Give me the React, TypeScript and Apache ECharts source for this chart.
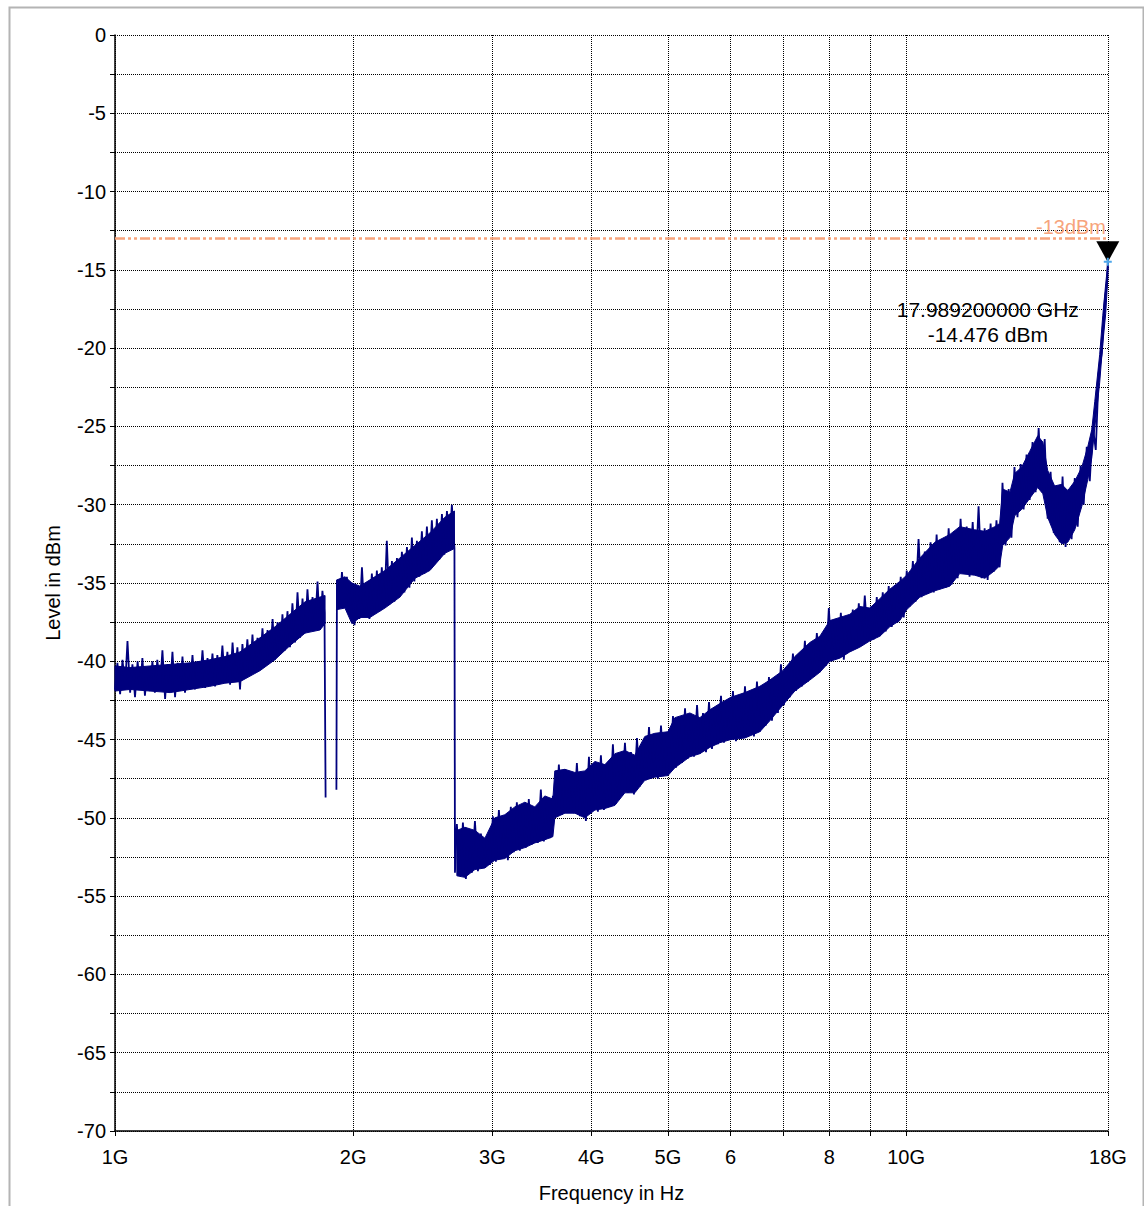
import React, { useEffect, useRef } from 'react';
import * as echarts from 'echarts';

// ---- axis definitions ----
const xTickFreqsGHz = [1, 2, 3, 4, 5, 6, 7, 8, 9, 10, 18];
const xLabelFreqsGHz = [1, 2, 3, 4, 5, 6, 8, 10, 18];
const xLabelTexts = ['1G', '2G', '3G', '4G', '5G', '6', '8', '10G', '18G'];
const yMin = -70;
const yMax = 0;
const yStep = 2.5;
const xAxisName = 'Frequency in Hz';
const yAxisName = 'Level in dBm';

// ---- limit line & marker ----
const limitLevel = -13;
const limitLabel = '-13dBm';
const markerFreqGHz = 17.9892;
const markerLevel = -14.476;

// ---- dense band of the trace: [GHz, upper dBm, lower dBm] ----
const bandA = [
  [1.000, -40.3, -41.9], [1.045, -40.4, -41.8], [1.107, -40.3, -41.9], [1.174, -40.2, -42.0],
  [1.244, -40.1, -41.8], [1.318, -39.9, -41.6], [1.377, -39.7, -41.4], [1.439, -39.4, -41.3],
  [1.525, -38.5, -40.6], [1.593, -37.8, -39.9], [1.664, -37.0, -39.0], [1.739, -36.2, -38.2],
  [1.816, -35.9, -38.0], [1.843, -35.8, -37.6],
];
const bandB = [
  [1.908, -34.8, -36.7], [1.953, -34.6, -36.6], [1.993, -35.0, -37.6], [2.040, -35.2, -37.2],
  [2.100, -34.8, -37.2], [2.194, -34.2, -36.6], [2.292, -33.4, -35.9], [2.394, -32.6, -34.7],
  [2.501, -31.8, -34.2], [2.612, -30.8, -33.1], [2.686, -30.4, -32.8],
];
const bandC = [
  [2.705, -50.8, -53.7], [2.769, -50.6, -53.8], [2.851, -50.8, -53.3], [2.935, -51.3, -53.2],
  [3.021, -50.0, -52.7], [3.110, -49.8, -52.6], [3.202, -49.3, -52.1], [3.297, -49.0, -51.9],
  [3.394, -49.3, -51.6], [3.494, -48.6, -51.4], [3.577, -48.8, -51.2], [3.597, -47.0, -50.0],
  [3.705, -46.9, -49.7], [3.814, -47.1, -49.7], [3.926, -47.0, -50.0], [4.043, -46.4, -49.5],
  [4.162, -46.6, -49.4], [4.285, -45.9, -49.2], [4.411, -45.7, -48.4], [4.541, -46.0, -48.4],
  [4.675, -44.8, -47.6], [4.813, -44.6, -47.4], [5.000, -44.5, -47.3], [5.102, -43.6, -46.8],
  [5.330, -43.3, -46.1], [5.487, -43.6, -45.9], [5.648, -43.1, -45.5], [5.816, -42.7, -45.2],
  [6.004, -42.3, -45.0], [6.254, -42.0, -44.9], [6.533, -41.6, -44.5], [6.726, -41.2, -43.8],
  [6.985, -40.6, -42.8], [7.234, -39.7, -41.9], [7.557, -38.8, -41.2], [7.781, -38.4, -40.7],
  [8.010, -37.4, -40.0], [8.247, -37.2, -39.8], [8.490, -37.0, -39.4], [8.740, -36.5, -39.1],
  [8.999, -36.6, -38.7], [9.264, -36.0, -38.4], [9.537, -35.4, -37.8], [9.818, -34.9, -37.4],
  [10.02, -34.5, -36.7], [10.41, -33.4, -35.9], [10.87, -32.4, -35.5], [11.36, -31.9, -35.2],
  [11.69, -31.4, -34.4], [12.21, -31.6, -34.5], [12.58, -31.7, -34.7], [12.95, -31.4, -34.2],
  [13.13, -31.2, -33.9], [13.25, -29.0, -32.6], [13.53, -29.2, -32.1], [13.72, -28.0, -30.7],
  [14.00, -27.6, -30.3], [14.33, -26.6, -29.6], [14.67, -25.6, -28.9], [14.89, -26.0, -29.3],
  [15.10, -27.8, -30.8], [15.41, -28.8, -31.9], [15.73, -28.7, -32.5], [16.01, -29.1, -32.4],
  [16.34, -28.5, -31.6], [16.68, -27.6, -30.1], [16.97, -26.3, -28.4], [17.17, -25.2, -27.0],
  [17.32, -23.4, -25.1], [17.57, -20.4, -22.2], [17.73, -17.9, -19.7], [17.88, -15.9, -17.8],
  [17.99, -14.6, -15.5],
];

// ---- trace samples (noisy), [GHz, dBm] ----
const traceA = [
  [1.000, -41.8], [1.007, -40.1], [1.015, -42.1], [1.022, -39.9], [1.030, -41.6], [1.037, -38.7],
  [1.045, -42.0], [1.052, -40.2], [1.060, -42.3], [1.068, -40.0], [1.076, -41.8], [1.083, -39.8],
  [1.091, -42.2], [1.099, -40.4], [1.107, -41.9], [1.115, -40.0], [1.123, -42.0], [1.131, -39.9],
  [1.140, -41.7], [1.148, -39.3], [1.157, -42.4], [1.165, -40.2], [1.174, -41.8], [1.182, -39.4],
  [1.191, -42.3], [1.200, -40.1], [1.208, -41.9], [1.217, -39.7], [1.226, -42.0], [1.235, -40.3],
  [1.244, -41.6], [1.253, -39.6], [1.262, -41.8], [1.271, -40.1], [1.281, -41.5], [1.290, -39.3],
  [1.300, -41.7], [1.309, -39.8], [1.318, -41.4], [1.328, -39.5], [1.338, -41.6], [1.347, -39.6],
  [1.357, -41.2], [1.367, -39.0], [1.377, -41.3], [1.387, -39.4], [1.398, -41.5], [1.408, -38.8],
  [1.418, -41.1], [1.428, -39.1], [1.439, -41.8], [1.449, -38.9], [1.460, -40.8], [1.470, -38.6],
  [1.481, -40.9], [1.492, -38.3], [1.503, -40.7], [1.514, -38.5], [1.525, -40.4], [1.536, -37.9],
  [1.548, -40.2], [1.559, -38.0], [1.570, -39.9], [1.582, -37.3], [1.593, -39.9], [1.605, -37.5],
  [1.617, -39.6], [1.628, -37.0], [1.640, -39.3], [1.652, -36.8], [1.664, -39.1], [1.676, -36.3],
  [1.689, -38.8], [1.701, -35.6], [1.714, -38.5], [1.726, -36.0], [1.739, -38.2], [1.751, -35.4],
  [1.764, -37.9], [1.777, -35.9], [1.790, -37.8], [1.803, -34.9], [1.816, -38.0], [1.829, -35.5],
  [1.840, -36.9], [1.846, -48.7],
];
const traceB = [
  [1.905, -48.2], [1.908, -34.8], [1.922, -36.6], [1.936, -34.3], [1.950, -36.4], [1.964, -34.6],
  [1.979, -36.9], [1.993, -35.0], [2.008, -37.7], [2.022, -35.3], [2.037, -37.3], [2.052, -34.0],
  [2.067, -37.1], [2.082, -35.0], [2.097, -37.3], [2.112, -34.4], [2.128, -36.9], [2.143, -34.2],
  [2.159, -36.8], [2.174, -34.0], [2.190, -36.6], [2.206, -32.3], [2.222, -36.4], [2.239, -33.6],
  [2.255, -36.2], [2.272, -33.4], [2.288, -35.9], [2.305, -33.0], [2.322, -35.6], [2.339, -32.7],
  [2.356, -35.3], [2.373, -32.1], [2.390, -34.9], [2.408, -32.3], [2.425, -34.6], [2.443, -31.7],
  [2.461, -34.4], [2.479, -31.4], [2.497, -34.1], [2.515, -31.0], [2.534, -33.8], [2.552, -30.9],
  [2.571, -33.5], [2.590, -30.6], [2.608, -33.2], [2.628, -30.4], [2.647, -32.6], [2.666, -30.0],
  [2.686, -32.8], [2.690, -53.5],
];
const traceC = [
  [2.705, -50.4], [2.729, -53.7], [2.753, -50.3], [2.777, -53.9], [2.801, -50.9], [2.826, -53.5],
  [2.851, -50.2], [2.876, -53.4], [2.901, -51.0], [2.926, -53.2], [2.952, -51.4], [2.978, -53.0],
  [3.004, -49.9], [3.030, -52.8], [3.057, -49.5], [3.084, -52.6], [3.110, -50.2], [3.138, -52.7],
  [3.165, -49.3], [3.193, -52.2], [3.221, -49.0], [3.249, -52.1], [3.278, -49.6], [3.306, -51.9],
  [3.335, -48.8], [3.365, -51.7], [3.394, -49.5], [3.424, -51.6], [3.454, -48.2], [3.484, -51.5],
  [3.515, -49.0], [3.546, -51.3], [3.577, -48.6], [3.608, -49.9], [3.640, -46.6], [3.672, -49.8],
  [3.705, -46.9], [3.737, -49.6], [3.770, -47.2], [3.803, -49.7], [3.836, -46.5], [3.870, -49.9],
  [3.904, -47.3], [3.938, -50.2], [3.973, -46.1], [4.008, -49.4], [4.043, -46.8], [4.078, -49.6],
  [4.114, -46.0], [4.150, -49.5], [4.187, -46.6], [4.223, -49.3], [4.260, -45.3], [4.298, -49.1],
  [4.336, -46.0], [4.374, -48.6], [4.412, -45.2], [4.451, -48.4], [4.490, -45.8], [4.529, -48.5],
  [4.569, -44.9], [4.609, -48.0], [4.650, -45.4], [4.690, -47.6], [4.732, -44.2], [4.773, -47.4],
  [4.815, -44.8], [4.857, -47.5], [4.900, -44.1], [4.943, -47.3], [4.986, -44.6], [5.030, -47.0],
  [5.074, -43.5], [5.119, -46.8], [5.164, -43.9], [5.209, -46.5], [5.255, -43.0], [5.301, -46.2],
  [5.347, -43.6], [5.394, -46.1], [5.442, -42.8], [5.489, -45.9],
];
const traceD = [
  [5.537, -43.3], [5.586, -45.8], [5.635, -42.6], [5.684, -45.6], [5.734, -43.0], [5.784, -45.3],
  [5.835, -42.2], [5.886, -45.2], [5.938, -42.9], [5.990, -45.0], [6.042, -41.9], [6.095, -45.1],
  [6.149, -42.5], [6.203, -44.9], [6.257, -41.6], [6.312, -44.7], [6.367, -42.3], [6.423, -44.8],
  [6.479, -41.3], [6.536, -44.5], [6.593, -41.9], [6.651, -44.1], [6.709, -41.0], [6.768, -43.8],
  [6.827, -41.5], [6.887, -43.3], [6.947, -40.2], [7.008, -42.8], [7.069, -40.6], [7.131, -42.3],
  [7.194, -39.5], [7.257, -41.9], [7.320, -39.6], [7.384, -41.6], [7.449, -38.7], [7.514, -41.3],
  [7.580, -38.9], [7.647, -41.0], [7.713, -38.2], [7.781, -40.7], [7.849, -38.6], [7.918, -40.3],
  [7.987, -36.6], [8.057, -40.0], [8.128, -37.3], [8.199, -39.8], [8.271, -36.9], [8.343, -39.9],
  [8.416, -37.2], [8.490, -39.4], [8.564, -36.7], [8.639, -39.2], [8.715, -36.3], [8.791, -39.0],
  [8.868, -35.8], [8.946, -38.7], [9.024, -36.5], [9.103, -38.6], [9.183, -35.9], [9.263, -38.4],
  [9.344, -35.6], [9.426, -38.1], [9.508, -35.2], [9.592, -37.8], [9.676, -35.4], [9.760, -37.5],
  [9.846, -34.6], [9.932, -37.2], [10.02, -34.2],
];
const traceE = [
  [10.11, -36.5], [10.20, -33.6], [10.28, -36.2], [10.37, -32.2], [10.46, -35.9], [10.56, -33.0],
  [10.65, -35.7], [10.74, -32.4], [10.84, -35.6], [10.93, -31.9], [11.03, -35.4], [11.12, -32.3],
  [11.22, -35.3], [11.32, -31.5], [11.42, -35.1], [11.52, -31.9], [11.62, -34.7], [11.72, -30.9],
  [11.82, -34.4], [11.93, -31.4], [12.03, -34.6], [12.14, -31.1], [12.24, -34.5], [12.35, -30.1],
  [12.46, -34.7], [12.57, -31.5], [12.68, -34.8], [12.79, -31.2], [12.90, -34.3], [13.01, -31.0],
  [13.13, -34.0], [13.24, -28.6], [13.36, -32.6], [13.48, -29.0], [13.59, -32.1], [13.71, -27.6],
  [13.83, -30.8], [13.96, -27.4], [14.08, -30.3], [14.20, -26.8], [14.33, -29.7], [14.45, -26.0],
  [14.58, -29.2], [14.71, -25.1], [14.84, -29.0], [14.97, -25.8], [15.10, -30.9], [15.23, -27.9],
  [15.37, -31.8], [15.50, -28.8], [15.64, -32.4], [15.77, -28.2], [15.91, -32.7], [16.05, -29.0],
  [16.19, -32.2], [16.34, -28.3], [16.48, -31.4], [16.62, -27.5], [16.77, -30.0], [16.92, -26.3],
  [17.07, -28.5], [17.22, -25.0], [17.37, -26.5], [17.52, -21.6], [17.68, -20.3], [17.83, -17.0],
  [17.95, -15.8], [17.99, -14.5], [18.0, -15.0],
];

const NAVY = '#00007e';
const ORANGE = '#f7a47c';
const FONT = '"Liberation Sans", Arial, Helvetica, sans-serif';
const lg = (f: number) => Math.log10(f);

export default function App() {
  const ref = useRef<HTMLDivElement>(null);

  useEffect(() => {
    const chart = echarts.init(ref.current as HTMLDivElement, null, { renderer: 'svg' });
    const toXY = (arr: number[][]) => arr.map(([f, v]) => [lg(f), v]);
    const traceData: any[] = [
      ...toXY(traceA),
      [lg(1.876), null],
      ...toXY(traceB),
      ...toXY(traceC),
      ...toXY(traceD),
      ...toXY(traceE),
    ];
    const bands = [bandA, bandB, bandC];

    const xLabelFormatter = (v: number) => {
      for (let i = 0; i < xLabelFreqsGHz.length; i++) {
        if (Math.abs(lg(xLabelFreqsGHz[i]) - v) < 1e-6) return xLabelTexts[i];
      }
      return '';
    };

    const option: any = {
      animation: false,
      backgroundColor: '#ffffff',
      grid: { left: 115, right: 36, top: 35, bottom: 75, outerBoundsMode: 'none', containLabel: false },
      graphic: [
        {
          type: 'rect',
          left: 7,
          top: 5,
          shape: { x: 0, y: 0, width: 1134, height: 1200 },
          style: { fill: 'none', stroke: '#b4b4b4', lineWidth: 2 },
          silent: true,
          z: -10,
        },
      ],
      xAxis: {
        type: 'value',
        min: 0,
        max: lg(18),
        name: xAxisName,
        nameLocation: 'middle',
        nameGap: 52,
        nameTextStyle: { fontFamily: FONT, fontSize: 20, color: '#000' },
        axisLine: { show: true, onZero: false, lineStyle: { color: '#000', width: 1.5 } },
        axisTick: {
          show: true,
          customValues: xTickFreqsGHz.map(lg),
          length: 5,
          lineStyle: { color: '#000', width: 1 },
        },
        axisLabel: {
          show: true,
          customValues: xLabelFreqsGHz.map(lg),
          formatter: xLabelFormatter,
          margin: 16,
          fontFamily: FONT,
          fontSize: 20,
          color: '#000',
        },
        splitLine: { show: true, lineStyle: { color: '#000', type: [1, 1], width: 1 } },
      },
      yAxis: {
        type: 'value',
        min: yMin,
        max: yMax,
        interval: yStep,
        name: yAxisName,
        nameLocation: 'middle',
        nameGap: 52,
        nameTextStyle: { fontFamily: FONT, fontSize: 20, color: '#000' },
        axisLine: { show: true, onZero: false, lineStyle: { color: '#000', width: 1.5 } },
        axisTick: { show: true, length: 5, lineStyle: { color: '#000', width: 1 } },
        axisLabel: {
          formatter: (v: number) => (Math.abs(v % 5) < 1e-9 ? String(Math.round(v)) : ''),
          margin: 9,
          fontFamily: FONT,
          fontSize: 20,
          color: '#000',
        },
        splitLine: { show: true, lineStyle: { color: '#000', type: [1, 1], width: 1 } },
      },
      series: [
        {
          type: 'custom',
          silent: true,
          z: 2,
          data: bands.map((s) => [lg(s[0][0]), s[0][1]]),
          renderItem: (params: any, api: any) => {
            const seg = bands[params.dataIndex];
            const top = seg.map((p) => api.coord([lg(p[0]), p[1]]));
            const bot = seg.map((p) => api.coord([lg(p[0]), p[2]])).reverse();
            return {
              type: 'polygon',
              shape: { points: top.concat(bot) },
              style: { fill: NAVY, stroke: NAVY, lineWidth: 1 },
            };
          },
        },
        {
          type: 'line',
          silent: true,
          z: 3,
          data: traceData,
          showSymbol: false,
          symbol: 'none',
          connectNulls: false,
          lineStyle: { color: NAVY, width: 1.8 },
          markLine: {
            silent: true,
            symbol: ['none', 'none'],
            data: [{ yAxis: limitLevel }],
            lineStyle: { color: ORANGE, width: 2.5, type: [10, 3, 3, 3, 3, 3] },
            label: {
              show: true,
              position: 'insideEndTop',
              formatter: limitLabel,
              color: ORANGE,
              fontFamily: FONT,
              fontSize: 20,
              distance: 2,
            },
          },
        },
        {
          type: 'scatter',
          silent: true,
          z: 10,
          data: [[lg(markerFreqGHz), markerLevel]],
          symbol: 'path://M0,0L22,0L11,20Z',
          symbolSize: [23, 21],
          symbolOffset: [0, -10],
          itemStyle: { color: '#000', opacity: 1 },
          label: {
            show: true,
            position: 'bottom',
            distance: 35,
            offset: [-120, 0],
            formatter: `${markerFreqGHz.toFixed(9)} GHz\n${markerLevel.toFixed(3)} dBm`,
            fontFamily: FONT,
            fontSize: 21,
            lineHeight: 25,
            color: '#000',
            opacity: 1,
          },
        },
        {
          type: 'scatter',
          silent: true,
          z: 11,
          data: [[lg(markerFreqGHz), markerLevel]],
          symbol: 'path://M3,0L5,0L5,3L8,3L8,5L5,5L5,8L3,8L3,5L0,5L0,3L3,3Z',
          symbolSize: 8,
          itemStyle: { color: '#4ea6ea', opacity: 1 },
        },
      ],
    };

    chart.setOption(option);
    return () => {
      chart.dispose();
    };
  }, []);

  return (
    <div
      ref={ref}
      style={{ position: 'absolute', left: 0, top: 0, width: 1144, height: 1206, background: '#fff' }}
    />
  );
}
